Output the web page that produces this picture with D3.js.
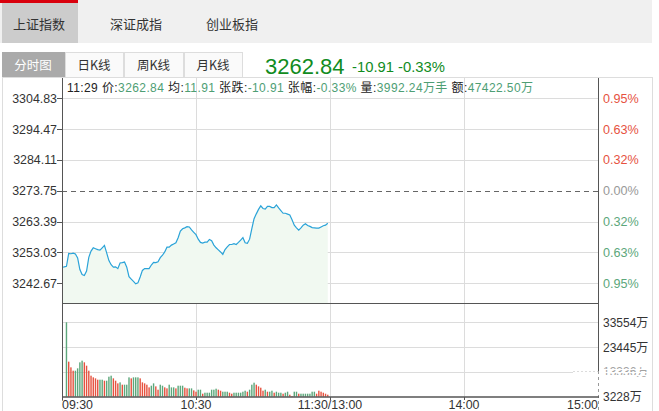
<!DOCTYPE html>
<html><head><meta charset="utf-8">
<script src="https://cdn.jsdelivr.net/npm/d3@7"></script>
<style>
html,body{margin:0;padding:0;background:#fff;}
svg{display:block;font-family:"Liberation Sans","Noto Sans CJK SC",sans-serif;}
</style></head>
<body>
<svg id="c" width="659" height="411"></svg>
<script>
// ---------- data ----------
const topTabs = ["上证指数", "深证成指", "创业板指"];
const subTabs = ["分时图", "日K线", "周K线", "月K线"];
const lastPrice = "3262.84", change = "-10.91", changePct = "-0.33%";
const infoItems = [
  ["11:29 价:", "3262.84"], [" 均:", "11.91"], [" 张跌:", "-10.91"], [" 张幅:", "-0.33%"],
  [" 量:", "3992.24万手"], [" 额:", "47422.50万"]
];
const preClose = 3273.75;
const priceTicks = [3304.83, 3294.47, 3284.11, 3273.75, 3263.39, 3253.03, 3242.67];
const pctTicks = ["0.95%", "0.63%", "0.32%", "0.00%", "0.32%", "0.63%", "0.95%"];
const volTicks = [33554, 23445, 13336, 3228];
const timeTicks = [[0, "09:30"], [60, "10:30"], [120, "11:30/13:00"], [180, "14:00"], [240, "15:00"]];
// one price per minute from 09:30 to 11:29
const prices = [
  3248.1,3248.2,3248.4,3252.7,3252.6,3252.8,3252.5,3251.2,3247.3,3245.6,
  3245.3,3246.8,3251.4,3253.5,3254.6,3254.3,3254.0,3253.8,3254.6,3255.4,
  3252.9,3250.3,3248.9,3248.1,3248.2,3247.6,3249.5,3249.6,3249.8,3248.1,
  3244.9,3244.1,3243.3,3242.5,3242.8,3244.8,3247.0,3247.6,3247.6,3247.6,
  3248.8,3249.7,3249.6,3249.9,3251.3,3252.1,3253.2,3254.8,3254.8,3255.5,
  3255.9,3256.3,3258.0,3260.2,3261.0,3261.3,3261.7,3261.6,3260.6,3259.8,
  3259.0,3257.5,3256.4,3256.2,3256.5,3256.5,3257.4,3257.0,3255.5,3254.6,
  3253.9,3253.2,3252.4,3254.0,3254.9,3255.7,3255.7,3256.0,3255.7,3256.4,
  3257.2,3258.0,3256.3,3256.1,3257.5,3261.0,3264.4,3266.0,3267.5,3268.7,
  3267.8,3267.6,3268.5,3268.5,3268.1,3268.1,3269.0,3268.0,3267.1,3266.2,
  3266.2,3265.9,3265.6,3264.0,3262.2,3261.3,3260.5,3261.3,3262.2,3262.7,
  3262.1,3261.8,3261.4,3261.3,3261.2,3261.2,3261.6,3262.0,3262.2,3262.84
];
const volStart = 2; // first volume bar at minute index 2
const volumes = [
  33554,15799,13241,11736,11736,12790,15498,16250,15498,13993,
  11736,9479,8727,8276,7674,7674,7674,7222,7222,9028,
  9479,8276,7222,6019,6470,5417,5417,5417,8727,8276,
  8727,8727,8727,8276,6470,6019,5417,4213,4965,6019,
  4664,3160,5417,4965,4213,3762,5417,4213,4213,3762,
  4965,4965,4965,4063,3762,3762,3762,2859,2257,3160,
  3160,1354,1806,1806,1806,3160,3160,3611,3160,2708,
  2257,2257,2257,1806,1354,1806,1806,1806,1806,2257,
  2708,2257,3160,5417,6320,5417,4664,4063,2708,3160,
  2257,2257,2708,1806,2257,1806,1806,1354,1806,2257,
  903,300,2257,2257,1354,1354,1354,1354,1354,1354,
  2257,2257,1354,2708,2257,1806,1354,903
];
const volDir = [ // 1 = green, 0 = red
  1,0,0,0,1,1,1,1,0,0,
  0,0,0,0,0,1,1,0,1,1,
  1,0,0,0,1,0,1,1,1,0,
  1,1,1,0,0,0,0,0,1,1,
  0,0,1,1,0,0,1,1,1,0,
  1,1,1,0,0,1,1,0,0,1,
  1,0,1,1,1,1,1,1,0,0,
  1,1,1,0,0,1,1,1,1,1,
  1,0,1,1,1,0,0,0,0,1,
  0,1,1,0,1,1,1,0,1,1,
  0,0,1,1,0,1,1,1,1,1,
  1,1,0,0,0,0,0,0
];

// ---------- colours ----------
const RED = "#e6523f", GREEN = "#5ca77b", LINE = "#2aa3d8", GRID = "#dcdcdc", AXIS = "#555";
const svg = d3.select("#c");

// ---------- header ----------
svg.append("rect").attr("x",0).attr("y",0).attr("width",652).attr("height",43).attr("fill","#f0f0f0");
svg.append("rect").attr("x",2).attr("y",3).attr("width",76).attr("height",40).attr("fill","#cccccc");
svg.append("rect").attr("x",0).attr("y",0).attr("width",78).attr("height",3).attr("fill","#d9000d");
const topX = [39, 136, 232];
svg.selectAll(".tt").data(topTabs).join("text")
  .attr("x",(d,i)=>topX[i]).attr("y",28.5).attr("text-anchor","middle")
  .attr("font-size",13).attr("fill","#333").attr("font-family","Noto Sans CJK SC").text(d=>d);

const subX = [2, 65, 124, 184], subW = [62, 58, 59, 58];
subTabs.forEach((t,i)=>{
  svg.append("rect").attr("x",subX[i]+0.5).attr("y",52.5).attr("width",subW[i]).attr("height",25)
    .attr("fill", i===0 ? "#aaaaaa" : "#fafafa").attr("stroke", i===0 ? "#aaaaaa" : "#dddddd");
  svg.append("text").attr("x",subX[i]+subW[i]/2).attr("y",69.5).attr("text-anchor","middle")
    .attr("font-size",12.5).attr("fill", i===0 ? "#fff" : "#333").attr("font-family","Noto Sans CJK SC").text(t);
});
svg.append("text").attr("x",265).attr("y",74).attr("font-size",22).attr("fill","#118c1e").text(lastPrice);
svg.append("text").attr("x",352).attr("y",72).attr("font-size",14).attr("fill","#118c1e")
  .attr("textLength",93).attr("lengthAdjust","spacingAndGlyphs").text(change+" "+changePct);

// ---------- frame ----------
svg.append("rect").attr("x",2.5).attr("y",77.5).attr("width",650).attr("height",340).attr("fill","none").attr("stroke","#dddddd");

// ---------- scales ----------
const x = d3.scaleLinear().domain([0,240]).range([62,598]);
const y = d3.scaleLinear().domain([3242.67,3304.83]).range([283.3,98.3]);
const priceTop = 78, priceBot = 303, volTop = 303, volBot = 396.7;
const yv = d3.scaleLinear().domain([0,33554]).range([volBot,322.3]);
const yvt = d3.scalePoint().domain(volTicks).range([322.3,volBot]);

// grid
const g = svg.append("g");
g.selectAll(".hg").data(priceTicks.filter(p=>p!==preClose)).join("line")
  .attr("x1",62).attr("x2",598).attr("y1",d=>Math.round(y(d))+0.5).attr("y2",d=>Math.round(y(d))+0.5)
  .attr("stroke",GRID);
g.selectAll(".vg").data(volTicks.slice(0,3)).join("line")
  .attr("x1",62).attr("x2",d=>d===13336?573:598).attr("y1",d=>Math.round(yvt(d))+0.5).attr("y2",d=>Math.round(yvt(d))+0.5)
  .attr("stroke",GRID);
g.append("line").attr("x1",573).attr("x2",598).attr("y1",371.5).attr("y2",371.5)
  .attr("stroke",GRID).attr("stroke-dasharray","2,2");
g.selectAll(".tg").data(timeTicks.slice(1,4)).join("line")
  .attr("x1",d=>Math.round(x(d[0]))+0.5).attr("x2",d=>Math.round(x(d[0]))+0.5)
  .attr("y1",priceTop).attr("y2",volBot).attr("stroke",GRID);

// area + line
const pts = prices.map((p,i)=>[i,p]);
svg.append("path").datum(pts)
  .attr("d", d3.area().x(d=>x(d[0])).y0(priceBot).y1(d=>y(d[1])))
  .attr("fill","#f1f9f1");
svg.append("path").datum(pts)
  .attr("d", d3.line().x(d=>x(d[0])).y(d=>y(d[1])))
  .attr("fill","none").attr("stroke",LINE).attr("stroke-width",1.2);

// pre-close dashed
svg.append("line").attr("x1",62).attr("x2",598).attr("y1",Math.round(y(preClose))+0.5).attr("y2",Math.round(y(preClose))+0.5)
  .attr("stroke","#666").attr("stroke-dasharray","5,4");

// volume bars
svg.selectAll(".vb").data(volumes).join("rect")
  .attr("x",(d,i)=>x(i+volStart)-0.7).attr("width",1.4)
  .attr("y",d=>yv(d)).attr("height",d=>volBot-yv(d))
  .attr("fill",(d,i)=>volDir[i] ? GREEN : RED);

// axes lines
svg.append("line").attr("x1",62.5).attr("x2",62.5).attr("y1",priceTop).attr("y2",volBot+4).attr("stroke",AXIS);
svg.append("line").attr("x1",598.5).attr("x2",598.5).attr("y1",priceTop).attr("y2",371).attr("stroke",AXIS);
svg.append("line").attr("x1",598.5).attr("x2",598.5).attr("y1",371).attr("y2",411).attr("stroke","#999").attr("stroke-dasharray","3,3");
svg.append("line").attr("x1",62).attr("x2",599).attr("y1",303.5).attr("y2",303.5).attr("stroke",AXIS);
svg.append("line").attr("x1",62).attr("x2",599).attr("y1",397).attr("y2",397).attr("stroke",AXIS).attr("stroke-width",1.5);

// left price axis
svg.selectAll(".pl").data(priceTicks).join("text")
  .attr("x",57).attr("y",d=>y(d)+4.5).attr("text-anchor","end").attr("font-size",12.4).attr("fill","#333")
  .text(d=>d.toFixed(2));
svg.selectAll(".pt").data(priceTicks).join("line")
  .attr("x1",57).attr("x2",62).attr("y1",d=>Math.round(y(d))+0.5).attr("y2",d=>Math.round(y(d))+0.5).attr("stroke",AXIS);

// right pct axis
svg.selectAll(".pr").data(priceTicks).join("text")
  .attr("x",603).attr("y",d=>y(d)+4.5).attr("font-size",12.6)
  .attr("fill",d=>d>preClose?RED:(d<preClose?GREEN:"#999"))
  .text((d,i)=>pctTicks[i]);

// volume axis labels
svg.selectAll(".vl").data(volTicks).join("text")
  .attr("x",603).attr("y",d=>yvt(d)+4.5).attr("font-size",12).attr("fill","#333")
  .attr("opacity",d=>d===13336?0.45:1)
  .text(d=>d+"万");
// white stripes over obscured label
[366,369,372,375,378].forEach(yy=>svg.append("rect").attr("x",600).attr("y",yy).attr("width",52).attr("height",1).attr("fill","#fff"));

// time axis
svg.selectAll(".tl").data(timeTicks).join("text")
  .attr("x",d=>x(d[0])).attr("y",408.5)
  .attr("text-anchor",(d,i)=>i===0?"start":(i===timeTicks.length-1?"end":"middle"))
  .attr("font-size",12.4).attr("fill","#333").text(d=>d[1]);
svg.selectAll(".tk").data(timeTicks.slice(0,4)).join("line")
  .attr("x1",d=>Math.round(x(d[0]))+0.5).attr("x2",d=>Math.round(x(d[0]))+0.5)
  .attr("y1",397).attr("y2",400).attr("stroke",AXIS);

// info line
const info = svg.append("text").attr("x",67).attr("y",92).attr("font-size",12)
  .attr("textLength",466).attr("lengthAdjust","spacing");
infoItems.forEach(([k,v])=>{
  info.append("tspan").attr("fill","#222").text(k);
  info.append("tspan").attr("fill","#4e9e74").text(v);
});
</script>
</body></html>
